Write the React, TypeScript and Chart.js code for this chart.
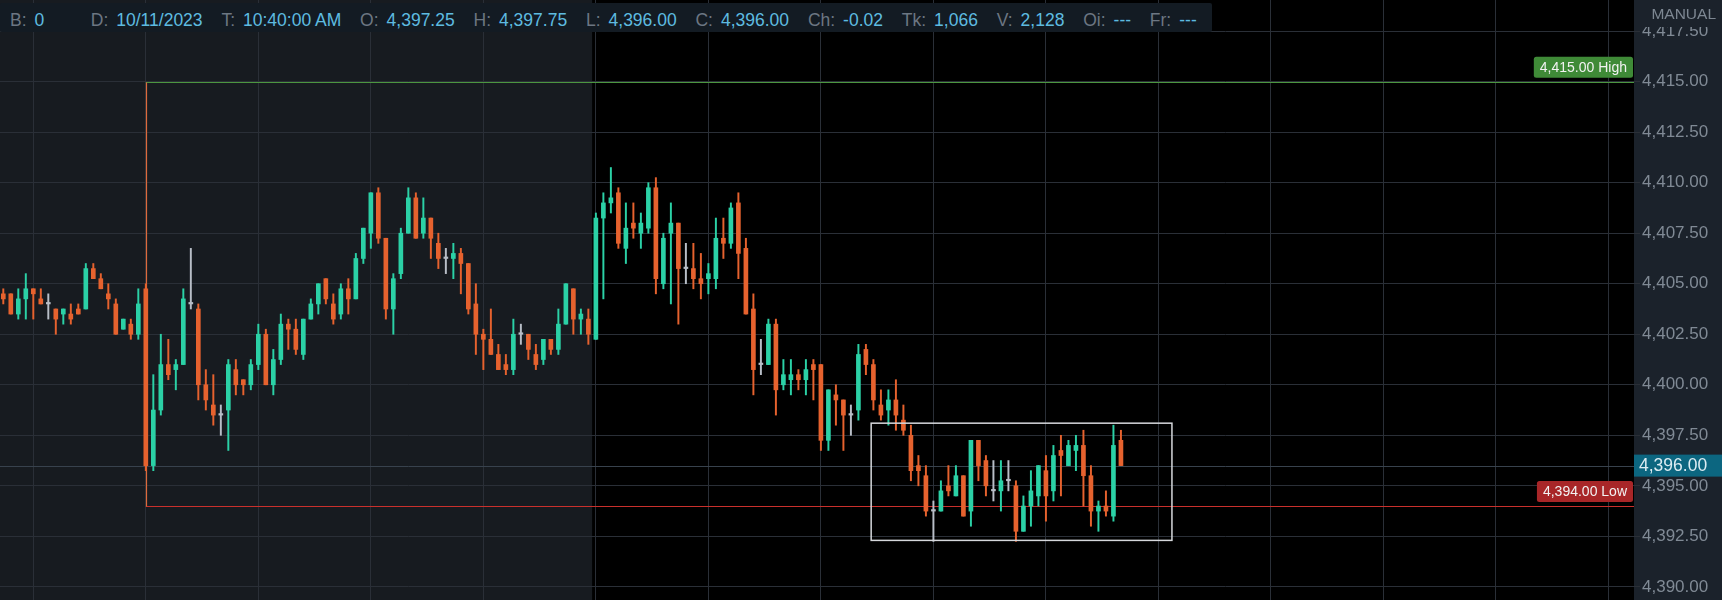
import React, { useEffect, useRef } from "react";
import { Chart, registerables } from "chart.js";

Chart.register(...registerables);

// ---- data (bar index 0..149) ----
const OPEN = [
  4404.5, 4404.5, 4403.5, 4404.25, 4404.75, 4404.25, 4404.0, 4403.75, 4403.5, 4403.5,
  4403.75, 4403.75, 4405.75, 4405.25, 4404.5, 4404.0, 4402.75, 4403.0, 4402.5, 4404.75,
  4396.0, 4398.75, 4401.0, 4400.75, 4401.0, 4404.0, 4403.75, 4400.0, 4399.0, 4398.5,
  4398.75, 4400.75, 4400.25, 4400.0, 4401.0, 4402.5, 4400.0, 4401.25, 4403.0, 4402.75,
  4401.5, 4403.25, 4404.0, 4405.25, 4404.0, 4403.5, 4404.75, 4404.25, 4406.25, 4407.5,
  4409.5, 4407.25, 4403.75, 4405.5, 4407.5, 4409.25, 4407.5, 4408.25, 4407.0, 4406.25,
  4406.25, 4406.5, 4406.0, 4404.0, 4402.5, 4402.25, 4401.5, 4401.0, 4400.75, 4402.5,
  4402.5, 4401.5, 4401.25, 4402.25, 4401.75, 4403.0, 4404.75, 4403.25, 4403.25, 4402.25,
  4408.25, 4409.0, 4409.5, 4406.75, 4408.0, 4407.5, 4407.75, 4409.75, 4405.0, 4407.5,
  4408.0, 4405.75, 4405.75, 4405.25, 4405.25, 4405.25, 4407.25, 4407.0, 4409.0, 4406.75,
  4403.75, 4401.0, 4401.0, 4403.0, 4400.0, 4400.25, 4400.5, 4400.25, 4401.0, 4401.0,
  4397.25, 4399.5, 4399.25, 4398.5, 4398.75, 4401.75, 4401.0, 4399.0, 4398.75, 4399.25,
  4398.25, 4397.5, 4396.0, 4395.5, 4393.75, 4393.75, 4395.0, 4394.5, 4395.5, 4393.75,
  4397.25, 4396.25, 4394.75, 4394.75, 4395.25, 4395.0, 4392.75, 4394.0, 4394.5, 4395.75,
  4394.75, 4396.75, 4396.0, 4396.75, 4397.0, 4395.5, 4393.75, 4394.0, 4393.5, 4397.25,
];
const HIGH = [
  4404.75, 4404.5, 4404.75, 4405.5, 4404.75, 4404.75, 4404.5, 4403.75, 4403.75, 4404.0,
  4404.0, 4406.0, 4406.0, 4405.5, 4405.0, 4404.25, 4403.25, 4403.25, 4404.75, 4405.0,
  4400.5, 4402.5, 4402.25, 4401.25, 4404.75, 4406.75, 4404.0, 4400.75, 4400.5, 4399.0,
  4401.25, 4401.25, 4400.25, 4401.25, 4403.0, 4402.75, 4401.75, 4403.5, 4403.25, 4403.25,
  4403.25, 4404.25, 4405.0, 4405.25, 4404.5, 4405.0, 4405.25, 4406.5, 4407.75, 4409.5,
  4409.75, 4407.25, 4405.5, 4407.75, 4409.75, 4409.5, 4409.25, 4408.25, 4407.5, 4406.75,
  4407.0, 4406.75, 4406.0, 4405.0, 4402.75, 4403.75, 4402.0, 4401.5, 4403.25, 4403.0,
  4402.5, 4402.0, 4402.25, 4402.25, 4403.75, 4405.0, 4404.75, 4403.75, 4403.75, 4408.5,
  4409.5, 4410.75, 4409.75, 4409.0, 4409.0, 4408.5, 4410.0, 4410.25, 4407.5, 4409.0,
  4408.0, 4407.0, 4407.0, 4406.5, 4406.0, 4408.25, 4408.25, 4409.0, 4409.5, 4407.25,
  4404.5, 4402.25, 4403.25, 4403.25, 4401.25, 4401.25, 4400.75, 4401.25, 4401.25, 4401.0,
  4399.75, 4400.0, 4399.25, 4399.0, 4402.0, 4402.0, 4401.25, 4399.75, 4399.75, 4400.25,
  4399.0, 4398.0, 4396.5, 4396.0, 4394.25, 4395.25, 4396.0, 4396.0, 4395.5, 4397.25,
  4397.25, 4396.5, 4396.25, 4396.25, 4396.25, 4395.25, 4394.5, 4395.75, 4396.0, 4396.5,
  4397.0, 4397.5, 4397.25, 4397.5, 4397.75, 4396.0, 4394.25, 4394.75, 4398.0, 4397.75,
];
const LOW = [
  4404.0, 4403.5, 4403.25, 4403.25, 4403.25, 4404.0, 4403.25, 4402.5, 4403.0, 4403.0,
  4403.5, 4403.75, 4405.25, 4404.75, 4403.75, 4402.5, 4402.75, 4402.25, 4402.25, 4395.75,
  4395.75, 4398.5, 4400.25, 4399.75, 4401.0, 4403.75, 4399.25, 4398.75, 4398.0, 4397.5,
  4396.75, 4399.5, 4399.5, 4399.75, 4400.75, 4400.0, 4399.5, 4401.0, 4401.75, 4401.5,
  4401.25, 4403.25, 4403.5, 4404.0, 4403.0, 4403.25, 4403.5, 4404.25, 4406.0, 4406.75,
  4407.0, 4403.25, 4402.5, 4405.25, 4407.5, 4407.25, 4407.25, 4406.25, 4405.75, 4405.5,
  4405.25, 4404.5, 4403.5, 4401.5, 4400.75, 4401.5, 4400.75, 4400.5, 4400.5, 4402.0,
  4401.25, 4400.75, 4401.0, 4401.5, 4401.5, 4403.0, 4402.5, 4402.5, 4402.0, 4402.25,
  4404.25, 4408.5, 4406.75, 4406.0, 4407.25, 4406.75, 4407.5, 4404.5, 4404.75, 4404.0,
  4403.0, 4405.0, 4404.75, 4404.25, 4404.5, 4404.75, 4406.25, 4406.75, 4405.25, 4403.5,
  4399.5, 4400.5, 4401.0, 4398.5, 4399.75, 4399.5, 4399.75, 4399.5, 4399.25, 4396.75,
  4396.75, 4398.0, 4396.75, 4397.5, 4398.25, 4400.5, 4398.75, 4398.25, 4398.0, 4397.75,
  4397.5, 4395.25, 4395.0, 4393.5, 4392.25, 4393.75, 4394.5, 4394.5, 4393.5, 4393.0,
  4395.25, 4394.5, 4394.25, 4393.75, 4394.75, 4392.25, 4392.75, 4393.0, 4394.0, 4393.25,
  4394.25, 4394.5, 4396.0, 4395.75, 4394.0, 4393.0, 4392.75, 4393.5, 4393.25, 4396.0,
];
const CLOSE = [
  4404.25, 4403.5, 4404.25, 4404.75, 4404.5, 4404.0, 4404.0, 4403.25, 4403.75, 4403.25,
  4403.5, 4405.75, 4405.25, 4404.75, 4404.25, 4402.5, 4403.25, 4402.5, 4404.0, 4396.0,
  4398.75, 4401.0, 4400.5, 4401.0, 4404.25, 4404.0, 4400.0, 4399.25, 4398.5, 4398.5,
  4401.0, 4400.0, 4400.0, 4401.0, 4402.5, 4400.0, 4401.25, 4403.0, 4402.75, 4401.75,
  4403.25, 4404.0, 4405.0, 4404.25, 4403.25, 4404.75, 4404.25, 4406.25, 4407.75, 4409.5,
  4407.25, 4403.75, 4405.25, 4407.5, 4409.25, 4407.25, 4408.25, 4407.25, 4406.25, 4406.25,
  4406.5, 4406.0, 4403.75, 4402.5, 4402.25, 4401.5, 4400.75, 4400.75, 4402.5, 4402.5,
  4401.75, 4401.0, 4402.25, 4401.75, 4403.0, 4405.0, 4403.25, 4403.5, 4402.5, 4408.25,
  4409.0, 4409.25, 4407.0, 4407.75, 4407.75, 4408.0, 4409.75, 4405.25, 4407.25, 4408.0,
  4405.75, 4405.75, 4405.25, 4405.0, 4405.5, 4407.25, 4407.0, 4408.75, 4406.5, 4403.5,
  4400.75, 4401.0, 4403.0, 4399.75, 4400.5, 4400.5, 4400.25, 4400.75, 4400.75, 4397.25,
  4399.75, 4399.25, 4398.5, 4398.5, 4401.5, 4401.0, 4399.25, 4398.5, 4399.25, 4398.5,
  4397.75, 4395.75, 4395.75, 4393.75, 4393.75, 4394.75, 4394.75, 4395.5, 4393.5, 4397.25,
  4396.0, 4395.0, 4394.75, 4395.25, 4395.25, 4392.75, 4394.0, 4394.75, 4396.0, 4394.5,
  4396.5, 4396.5, 4397.0, 4397.0, 4395.5, 4393.75, 4394.0, 4393.75, 4397.0, 4396.0,
];

// header (data box) texts
const HEADER_LABELS = ["B:", "D:", "T:", "O:", "H:", "L:", "C:", "Ch:", "Tk:", "V:", "Oi:", "Fr:"];
const HEADER_VALUES = ["0", "10/11/2023", "10:40:00 AM", "4,397.25", "4,397.75", "4,396.00", "4,396.00", "-0.02", "1,066", "2,128", "---", "---"];

// levels & drawings (in data units)
const HIGH_LEVEL = 4415.0;
const LOW_LEVEL = 4394.0;
const LAST_PRICE = 4396.0;
const RANGE_START_BAR = 19;
const SESSION_BREAK_BAR = 78.5;
const BOX_FROM_BAR = 115.7;
const BOX_TO_BAR = 155.8;
const BOX_TOP = 4398.1;
const BOX_BOTTOM = 4392.3;
const GRID_BARS = [4, 19, 34, 49, 64, 79, 94, 109, 124, 139, 154, 169, 184, 199, 214];

// axis limits
const Y_MIN = 4389.35;
const Y_MAX = 4419.04;
const Y_STEP = 2.5;
const X_MIN = -0.44;
const X_MAX = 217.4;

// styles
const UP = "#2bd1a6";
const DOWN = "#e6622e";
const DOJI = "#b8bec7";
const GRID = "#2a2f37";
const SHADE = "#171b20";
const AXIS_BG = "#1b222b";
const FONT = "'Liberation Sans', Arial, sans-serif";
const AXIS_W = 88;

const fmt = (v: number) =>
  v.toLocaleString("en-US", { minimumFractionDigits: 2, maximumFractionDigits: 2 });

const colorOf = (i: number) =>
  CLOSE[i] > OPEN[i] ? UP : CLOSE[i] < OPEN[i] ? DOWN : DOJI;

function roundRect(ctx: CanvasRenderingContext2D, x: number, y: number, w: number, h: number, r: number) {
  ctx.beginPath();
  ctx.moveTo(x + r, y);
  ctx.lineTo(x + w - r, y);
  ctx.quadraticCurveTo(x + w, y, x + w, y + r);
  ctx.lineTo(x + w, y + h - r);
  ctx.quadraticCurveTo(x + w, y + h, x + w - r, y + h);
  ctx.lineTo(x + r, y + h);
  ctx.quadraticCurveTo(x, y + h, x, y + h - r);
  ctx.lineTo(x, y + r);
  ctx.quadraticCurveTo(x, y, x + r, y);
  ctx.closePath();
}

const decorPlugin = {
  id: "decor",
  beforeDraw(chart: any) {
    const { ctx, chartArea: a, scales } = chart;
    const x = scales.x;
    ctx.save();
    ctx.fillStyle = "#000";
    ctx.fillRect(0, 0, chart.width, chart.height);
    const sx = x.getPixelForValue(SESSION_BREAK_BAR);
    ctx.fillStyle = SHADE;
    ctx.fillRect(a.left, a.top, sx - a.left, a.bottom - a.top);
    ctx.fillStyle = AXIS_BG;
    ctx.fillRect(a.right, 0, chart.width - a.right, chart.height);
    ctx.restore();
  },
  beforeDatasetsDraw(chart: any) {
    const { ctx, chartArea: a, scales } = chart;
    const { x, y } = scales;
    ctx.save();
    // last price line
    const py = Math.round(y.getPixelForValue(LAST_PRICE)) + 0.5;
    ctx.strokeStyle = "#38424d";
    ctx.lineWidth = 1;
    ctx.beginPath();
    ctx.moveTo(a.left, py);
    ctx.lineTo(a.right, py);
    ctx.stroke();
    const x0 = x.getPixelForValue(RANGE_START_BAR);
    const hy = Math.round(y.getPixelForValue(HIGH_LEVEL)) + 0.5;
    const ly = Math.round(y.getPixelForValue(LOW_LEVEL)) + 0.5;
    ctx.lineWidth = 1.2;
    ctx.strokeStyle = "#4c9640";
    ctx.beginPath();
    ctx.moveTo(x0, hy);
    ctx.lineTo(a.right, hy);
    ctx.stroke();
    ctx.strokeStyle = "#c9302c";
    ctx.beginPath();
    ctx.moveTo(x0, ly);
    ctx.lineTo(a.right, ly);
    ctx.stroke();
    ctx.strokeStyle = "#dd6a3c";
    ctx.beginPath();
    ctx.moveTo(Math.round(x0) + 0.5, hy);
    ctx.lineTo(Math.round(x0) + 0.5, ly);
    ctx.stroke();
    ctx.restore();
  },
  afterDatasetsDraw(chart: any) {
    const { ctx, scales } = chart;
    const { x, y } = scales;
    ctx.save();
    const l = x.getPixelForValue(BOX_FROM_BAR);
    const r = x.getPixelForValue(BOX_TO_BAR);
    const t = y.getPixelForValue(BOX_TOP);
    const b = y.getPixelForValue(BOX_BOTTOM);
    ctx.strokeStyle = "#d6d8dc";
    ctx.lineWidth = 1.5;
    ctx.strokeRect(l, t, r - l, b - t);
    ctx.restore();
  },
  afterDraw(chart: any) {
    const { ctx, chartArea: a, scales } = chart;
    const { y } = scales;
    ctx.save();
    // MANUAL box at the top of the price axis
    ctx.fillStyle = AXIS_BG;
    ctx.fillRect(a.right, 0, chart.width - a.right, 27);
    ctx.fillStyle = "#7d8792";
    ctx.font = `15.5px ${FONT}`;
    ctx.textAlign = "right";
    ctx.textBaseline = "middle";
    ctx.fillText("MANUAL", chart.width - 6, 15);

    // level labels
    const drawLevel = (value: number, text: string, bg: string) => {
      const ly = y.getPixelForValue(value);
      ctx.font = `14px ${FONT}`;
      const w = ctx.measureText(text).width + 12;
      const h = 21;
      const bx = a.right - 1 - w;
      const by = ly - 4 - h;
      ctx.fillStyle = bg;
      roundRect(ctx, bx, by, w, h, 2.5);
      ctx.fill();
      ctx.fillStyle = "#f2f2f2";
      ctx.textAlign = "center";
      ctx.textBaseline = "middle";
      ctx.fillText(text, bx + w / 2, by + h / 2 + 0.5);
    };
    drawLevel(HIGH_LEVEL, `${fmt(HIGH_LEVEL)} High`, "#3f8a37");
    drawLevel(LOW_LEVEL, `${fmt(LOW_LEVEL)} Low`, "#a82628");

    // last price tag on the axis
    const py = y.getPixelForValue(LAST_PRICE);
    ctx.fillStyle = "#0c6680";
    ctx.fillRect(a.right, py - 11, chart.width - a.right, 22);
    ctx.fillStyle = "#dcecf2";
    ctx.font = `17.5px ${FONT}`;
    ctx.textAlign = "left";
    ctx.textBaseline = "middle";
    ctx.fillText(fmt(LAST_PRICE), a.right + 5, py + 1);
    ctx.restore();
  },
};

export default function App() {
  const canvasRef = useRef<HTMLCanvasElement | null>(null);

  useEffect(() => {
    const idx = OPEN.map((_, i) => i);
    const colors = idx.map(colorOf);
    const chart = new Chart(canvasRef.current as HTMLCanvasElement, {
      type: "bar",
      data: {
        datasets: [
          {
            label: "body",
            data: idx.map((i) => ({ x: i, y: [OPEN[i], CLOSE[i]] })) as any,
            backgroundColor: colors,
            borderWidth: 0,
            barThickness: 4,
            minBarLength: 1.5,
            grouped: false,
            order: 0,
          } as any,
          {
            label: "wick",
            data: idx.map((i) => ({ x: i, y: [LOW[i], HIGH[i]] })) as any,
            backgroundColor: colors,
            borderWidth: 0,
            barThickness: 1.3,
            minBarLength: 1,
            grouped: false,
            order: 1,
          } as any,
        ],
      },
      options: {
        animation: false,
        responsive: true,
        maintainAspectRatio: false,
        events: [],
        layout: { padding: 0 },
        plugins: { legend: { display: false }, tooltip: { enabled: false } },
        scales: {
          x: {
            type: "linear",
            min: X_MIN,
            max: X_MAX,
            offset: false,
            afterFit: (s: any) => {
              s.height = 0;
              s.paddingLeft = 0;
              s.paddingRight = 0;
            },
            afterBuildTicks: (s: any) => {
              s.ticks = GRID_BARS.map((v) => ({ value: v }));
            },
            ticks: { display: false },
            grid: { color: GRID, lineWidth: 1, drawTicks: false, offset: false },
            border: { display: false },
          } as any,
          y: {
            position: "right",
            min: Y_MIN,
            max: Y_MAX,
            afterFit: (s: any) => {
              s.width = AXIS_W;
              s.paddingTop = 0;
              s.paddingBottom = 0;
            },
            ticks: {
              stepSize: Y_STEP,
              includeBounds: false,
              color: "#808a95",
              padding: 2,
              font: { family: FONT, size: 17 },
              callback: (v: any) => fmt(Number(v)),
            },
            grid: { color: GRID, lineWidth: 1, drawTicks: true, tickLength: 6 },
            border: { display: false },
          } as any,
        },
      },
      plugins: [decorPlugin as any],
    });
    return () => chart.destroy();
  }, []);

  return (
    <div style={{ position: "relative", width: 1722, height: 600, background: "#000", overflow: "hidden" }}>
      <style>{"body{margin:0;background:#000}"}</style>
      <canvas ref={canvasRef} />
      <div
        style={{
          position: "absolute",
          left: 0,
          top: 3,
          width: 1212,
          height: 29,
          background: "#131b23",
          borderRadius: 2,
          boxSizing: "border-box",
          paddingTop: 5,
          paddingLeft: 10,
          display: "flex",
          alignItems: "center",
          gap: 18.8,
          fontFamily: FONT,
          fontSize: 17.5,
          whiteSpace: "nowrap",
        }}
      >
        {HEADER_LABELS.map((lab, i) => (
          <div key={lab} style={{ display: "flex", minWidth: i === 0 ? 62 : undefined }}>
            <span style={{ color: "#6c7682", marginRight: 8 }}>{lab}</span>
            <span style={{ color: "#5ebbe0" }}>{HEADER_VALUES[i]}</span>
          </div>
        ))}
      </div>
    </div>
  );
}
